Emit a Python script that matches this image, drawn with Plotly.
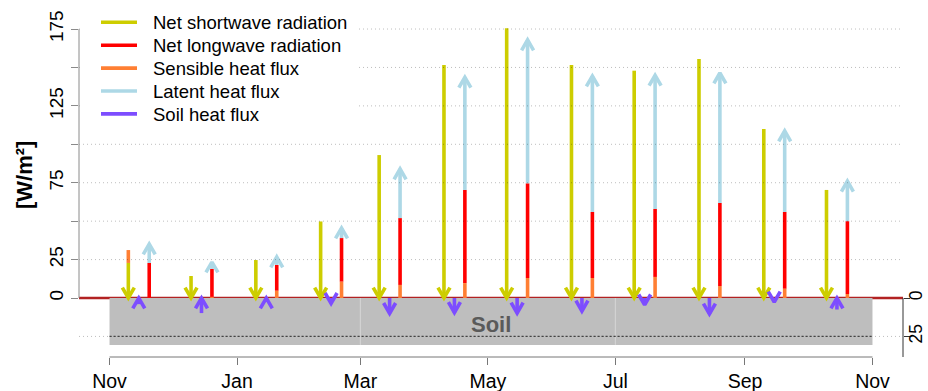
import numpy as np
import pandas as pd
import plotly.graph_objects as go

# ---------------- data ----------------
months = ["Nov", "Dec", "Jan", "Feb", "Mar", "Apr", "May", "Jun", "Jul", "Aug", "Sep", "Oct"]
month_mid_dates = ["2021-11-15", "2021-12-15", "2022-01-15", "2022-02-15", "2022-03-15", "2022-04-15",
                   "2022-05-15", "2022-06-15", "2022-07-15", "2022-08-15", "2022-09-15", "2022-10-15"]
shortwave = [22.8, 14.3, 24.7, 49.8, 93.0, 151.6, 175.5, 151.6, 147.9, 155.5, 110.0, 70.3]
longwave = [22.8, 18.2, 16.8, 28.4, 43.5, 60.6, 61.6, 43.0, 44.2, 54.0, 50.0, 47.4]
sensible = [-8.4, 0.7, 4.7, 10.6, 8.5, 9.7, 13.0, 13.0, 13.7, 7.8, 6.0, 2.6]
latent = [12.3, 4.5, 5.2, 6.5, 32.0, 73.3, 93.3, 88.4, 87.0, 84.6, 52.7, 26.0]
soil = [-4.0, -9.8, -2.5, 3.5, 10.0, 9.5, 9.8, 8.5, 4.5, 10.4, 2.6, -7.5]

series_names = ["Net shortwave radiation", "Net longwave radiation", "Sensible heat flux",
                "Latent heat flux", "Soil heat flux"]
series_colors = ["#CDCD00", "#FF0000", "#FF7F33", "#ADD8E6", "#7D4DFF"]

start_date = "2021-11-01"
end_date = "2022-11-01"
tick_dates = ["2021-11-01", "2022-01-01", "2022-03-01", "2022-05-01", "2022-07-01", "2022-09-01", "2022-11-01"]
tick_labels = ["Nov", "Jan", "Mar", "May", "Jul", "Sep", "Nov"]
y_ticks = [0, 25, 50, 75, 100, 125, 150, 175]
y_ticklabels = ["0", "25", "", "75", "", "125", "", "175"]
soil_ticks = [0, -25]
soil_ticklabels = ["0", "25"]
soil_depth = -30.5
soil_divider_dates = ["2022-03-01", "2022-07-01"]

# ---------------- geometry helpers ----------------
W, H = 928, 391
ML, MR, MT, MB = 79, 25, 13, 34
pw, ph = W - ML - MR, H - MT - MB

t0 = pd.Timestamp(start_date)
def day(d):
    return (pd.Timestamp(d) - t0).days

span = day(end_date)
xr = [-0.04 * span, span * 1.04]
px_per_unit = 1.537
y0px = 298 - MT
yr = [-(ph - y0px) / px_per_unit, y0px / px_per_unit]
pxd = pw / (xr[1] - xr[0])
pxu = ph / (yr[1] - yr[0])

def px_x(px):
    return (px - ML) / pw
def px_y(py):
    return (H - MB - py) / ph

HEAD = 12.0
hx = HEAD * np.sin(np.radians(30)) / pxd
hy = HEAD * np.cos(np.radians(30)) / pxu

mid = np.array([day(d) for d in month_mid_dates], dtype=float)
off = 5.0
x_in = mid - off
x_out = mid + off

def seg(xs, ys, x, a, b):
    xs += [x, x, None]
    ys += [a, b, None]

def head(xs, ys, x, tip, direction):
    yb = tip - direction * hy
    xs += [x - hx, x, x + hx, None]
    ys += [yb, tip, yb, None]

LWID = 3.6

sw_x, sw_y, lw_x, lw_y, sh_x, sh_y, le_x, le_y, g_x, g_y = ([] for _ in range(10))
for i in range(len(months)):
    seg(sw_x, sw_y, x_in[i], shortwave[i], 0)
    head(sw_x, sw_y, x_in[i], 0, -1)
    base = max(sensible[i], 0)
    if sensible[i] >= 0:
        seg(sh_x, sh_y, x_out[i], 0, sensible[i])
    else:
        seg(sh_x, sh_y, x_in[i], shortwave[i], shortwave[i] - sensible[i])
    seg(lw_x, lw_y, x_out[i], base, base + longwave[i])
    top = base + longwave[i] + latent[i]
    seg(le_x, le_y, x_out[i], base + longwave[i], top)
    head(le_x, le_y, x_out[i], top, 1)
    gv = soil[i]
    tail, tip = min(0, gv), min(0, -gv)
    seg(g_x, g_y, mid[i], tail, tip)
    head(g_x, g_y, mid[i], tip, 1 if gv < 0 else -1)

fig = go.Figure()
for (xs, ys), name, color in zip([(sw_x, sw_y), (lw_x, lw_y), (sh_x, sh_y), (le_x, le_y), (g_x, g_y)],
                                 series_names, series_colors):
    fig.add_trace(go.Scatter(x=xs, y=ys, mode="lines", name=name, hoverinfo="skip", showlegend=False,
                             line=dict(color=color, width=LWID)))
fig.add_trace(go.Scatter(x=[None], y=[None], yaxis="y2", showlegend=False, hoverinfo="skip"))

shapes = []
shapes.append(dict(type="rect", xref="x", yref="y", x0=0, x1=span, y0=soil_depth, y1=0,
                   fillcolor="#BEBEBE", line=dict(width=0), layer="below"))
for d in soil_divider_dates:
    shapes.append(dict(type="line", xref="x", yref="y", x0=day(d), x1=day(d), y0=soil_depth, y1=0,
                       line=dict(color="#D6D6D6", width=1), layer="below"))
shapes.append(dict(type="line", xref="paper", yref="y", x0=0, x1=1, y0=0, y1=0,
                   line=dict(color="#B22222", width=2.5), layer="below"))
for yv in y_ticks[1:] + [-25]:
    shapes.append(dict(type="line", xref="paper", yref="y", x0=0, x1=1, y0=yv, y1=yv,
                       line=dict(color="rgba(0,0,0,0.26)", width=1, dash="1px,3px"), layer="above"))
shapes.append(dict(type="line", xref="x", yref="y", x0=0, x1=span, y0=-25, y1=-25,
                   line=dict(color="#444444", width=1.2, dash="2px,2px"), layer="above"))
# axis lines
shapes.append(dict(type="line", xref="paper", yref="y", x0=0, x1=0, y0=0, y1=175,
                   line=dict(color="#8A8A8A", width=1)))
shapes.append(dict(type="line", xref="x", yref="paper", x0=0, x1=span, y0=0, y1=0,
                   line=dict(color="#777777", width=1)))
shapes.append(dict(type="line", xref="paper", yref="y", x0=1, x1=1, y0=yr[0], y1=0,
                   line=dict(color="#333333", width=1)))

# legend (key lines + labels on a white box)
leg_top, leg_step = 22.3, 22.9
shapes.append(dict(type="rect", xref="paper", yref="paper", x0=px_x(80), x1=px_x(358),
                   y0=px_y(126), y1=px_y(6), fillcolor="white", line=dict(width=0), layer="above"))
annotations = []
for k, (name, color) in enumerate(zip(series_names, series_colors)):
    ry = leg_top + k * leg_step
    shapes.append(dict(type="line", xref="paper", yref="paper", x0=px_x(101), x1=px_x(137),
                       y0=px_y(ry), y1=px_y(ry), line=dict(color=color, width=LWID), layer="above"))
    annotations.append(dict(text=name, x=px_x(151), y=px_y(ry + 0.5), xref="paper", yref="paper",
                            xanchor="left", yanchor="middle", showarrow=False,
                            font=dict(size=18.5, color="black")))

annotations.append(dict(text="<b>Soil</b>", x=span / 2, y=-17.5, xref="x", yref="y", showarrow=False,
                        font=dict(size=22, color="#5A5A5A")))
annotations.append(dict(text="<b>[W/m²]</b>", x=px_x(25), y=px_y(175), xref="paper", yref="paper",
                        xanchor="center", yanchor="middle", showarrow=False,
                        textangle=-90, font=dict(size=22, color="black")))

font_family = "Liberation Sans, Arial, sans-serif"
fig.update_layout(
    width=W, height=H, autosize=False,
    margin=dict(l=ML, r=MR, t=MT, b=MB, pad=0, autoexpand=False),
    plot_bgcolor="white", paper_bgcolor="white",
    font=dict(family=font_family, size=19, color="black"),
    shapes=shapes, annotations=annotations, showlegend=False,
    xaxis=dict(range=xr, showgrid=False, zeroline=False, showline=False, automargin=False,
               tickvals=[day(d) for d in tick_dates], ticktext=tick_labels,
               ticks="outside", ticklen=7, tickcolor="#777777", tickfont=dict(size=19.5)),
    yaxis=dict(range=yr, showgrid=False, zeroline=False, showline=False, automargin=False,
               tickvals=y_ticks, ticktext=y_ticklabels, tickangle=-90,
               ticks="outside", ticklen=7, tickcolor="#8A8A8A", tickfont=dict(size=19)),
    yaxis2=dict(range=yr, overlaying="y", side="right", showgrid=False, zeroline=False, showline=False,
                automargin=False, tickvals=soil_ticks, ticktext=soil_ticklabels, tickangle=-90,
                ticks="outside", ticklen=6, tickcolor="#333333", tickfont=dict(size=17.5),
                ticklabelstandoff=-9),
)

fig.write_html("out.html")
